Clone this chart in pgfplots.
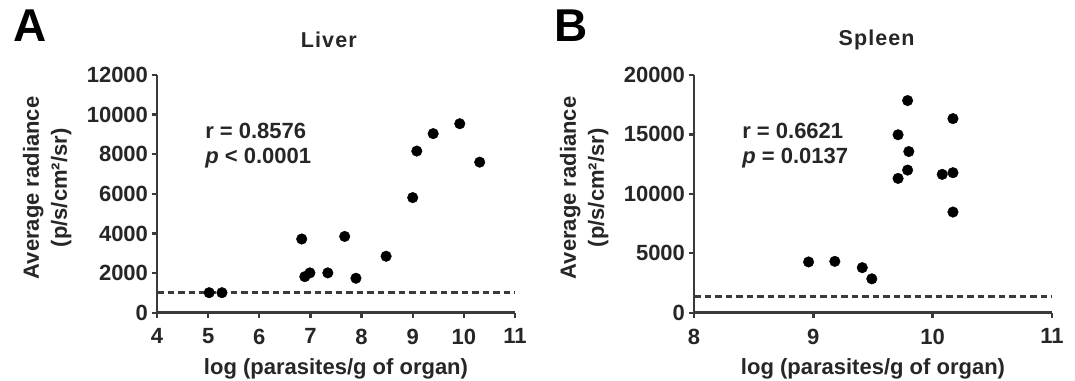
\documentclass[border=0pt]{standalone}
\usepackage{fontspec}
\setmainfont{Liberation Sans}
\usepackage{pgfplots}
\pgfplotsset{compat=1.18}
\definecolor{axgray}{HTML}{3A3A3A}
\definecolor{txt}{HTML}{262626}
\pgfplotsset{
 prism/.style={
  width=358pt, height=237.7pt, scale only axis,
  axis lines=left, axis line style={-, line width=2.8pt, color=axgray},
  tick align=outside, major tick length=5.5pt,
  tick style={line width=2.4pt, color=axgray},
  enlargelimits=false, clip=false,
  /pgf/number format/1000 sep={}, /pgf/number format/assume math mode=true,
  scaled y ticks=false, scaled x ticks=false,
  ticklabel style={font=\fontsize{22}{26}\selectfont\bfseries, text=txt},
  xticklabel style={yshift=-7pt},
  label style={font=\fontsize{22}{28}\selectfont\bfseries, text=txt},
  title style={font=\fontsize{21.5}{25}\selectfont\bfseries\addfontfeature{LetterSpace=5}, text=txt, anchor=center},
  xlabel style={at={(axis description cs:0.5,-0.235)}, anchor=center},
  ylabel style={at={(axis description cs:-0.307,0.525)}, anchor=center, align=center},
  ylabel={Average radiance\\(p/s/cm²/sr)},
  xlabel={log (parasites/g of organ)},
 },
 dots/.style={only marks, mark=*, mark size=5.3pt, mark options={fill=black, draw=black}},
 lod/.style={no marks, line width=3pt, color=axgray, dash pattern=on 6.5pt off 4pt},
}
\begin{document}
\begin{tikzpicture}
\path[use as bounding box] (0,0) rectangle (1075pt,380pt);
\node[anchor=north west, inner sep=0, font=\fontsize{46}{46}\selectfont\bfseries] at (13pt,370pt) {A};
\node[anchor=north west, inner sep=0, font=\fontsize{46}{46}\selectfont\bfseries] at (554pt,370pt) {B};
\begin{axis}[prism, at={(157pt,67.3pt)}, anchor=south west,
  xmin=4, xmax=11, ymin=0, ymax=12000,
  xtick={4,5,6,7,8,9,10,11}, ytick={0,2000,4000,6000,8000,10000,12000},
  title={Liver}, title style={at={(axis description cs:0.48,1.122)}}]
\addplot[lod] coordinates {(4,1000) (11,1000)};
\addplot[dots] coordinates {
(5.02,1010) (5.27,1010) (6.83,3720) (6.89,1820) (6.99,2010) (7.34,2010)
(7.67,3850) (7.89,1740) (8.48,2850) (9.00,5810) (9.08,8160) (9.40,9040)
(9.92,9540) (10.31,7600)};
\node[anchor=west, align=left, font=\fontsize{22}{25}\selectfont\bfseries, text=txt] at (axis description cs:0.125,0.703) {r = 0.8576\\\textit{p} < 0.0001};
\end{axis}
\begin{axis}[prism, at={(694pt,67.3pt)}, anchor=south west,
  xmin=8, xmax=11, ymin=0, ymax=20000,
  xtick={8,9,10,11}, ytick={0,5000,10000,15000,20000},
  title={Spleen}, title style={at={(axis description cs:0.51,1.122)}}]
\addplot[lod] coordinates {(8,1400) (11,1400)};
\addplot[dots] coordinates {
(8.96,4270) (9.18,4320) (9.41,3790) (9.49,2850) (9.71,14970) (9.71,11300)
(9.79,17850) (9.80,13560) (9.79,12000) (10.08,11640) (10.17,11780)
(10.17,16330) (10.17,8470)};
\node[anchor=west, align=left, font=\fontsize{22}{25}\selectfont\bfseries, text=txt] at (axis description cs:0.125,0.703) {r = 0.6621\\\textit{p} = 0.0137};
\end{axis}
\end{tikzpicture}
\end{document}
